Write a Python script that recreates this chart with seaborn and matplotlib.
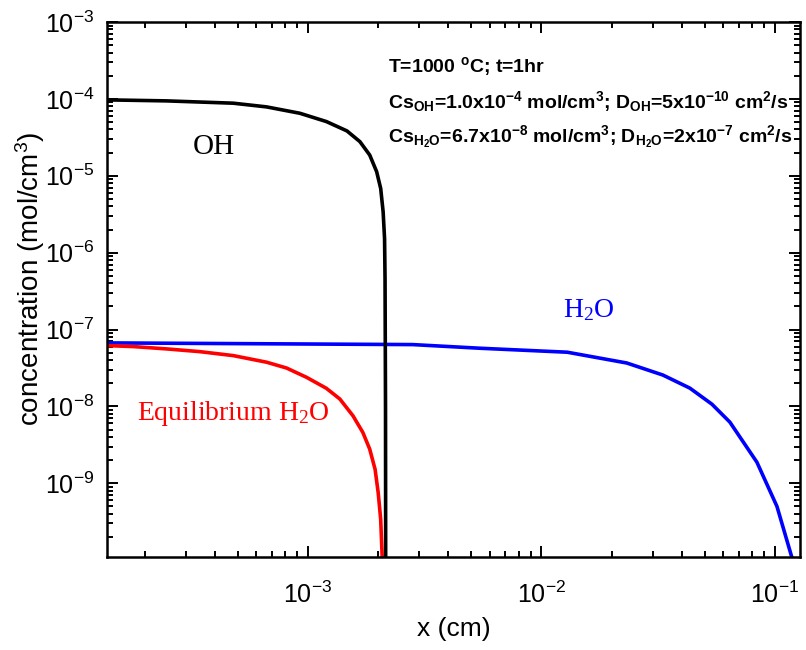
import matplotlib
matplotlib.use("Agg")
import matplotlib.pyplot as plt
from matplotlib import font_manager
import matplotlib.ticker as mticker
import seaborn as sns
import pandas as pd
import numpy as np

# ---- data ----
oh_x = [1.40e-4, 2.48e-4, 4.79e-4, 6.65e-4, 9.24e-4, 1.20e-3, 1.47e-3, 1.67e-3, 1.84e-3,
        1.97e-3, 2.05e-3, 2.10e-3, 2.13e-3, 2.14e-3, 2.15e-3, 2.155e-3]
oh_y = [9.7e-5, 9.42e-5, 8.79e-5, 7.87e-5, 6.50e-5, 5.07e-5, 3.83e-5, 2.78e-5, 1.86e-5,
        1.13e-5, 6.84e-6, 3.40e-6, 1.52e-6, 4.58e-7, 1e-8, 1e-11]

eq_x = [1.38e-4, 1.79e-4, 2.48e-4, 3.44e-4, 4.79e-4, 6.65e-4, 8.10e-4, 9.87e-4, 1.20e-3,
        1.37e-3, 1.56e-3, 1.72e-3, 1.84e-3, 1.94e-3, 2.00e-3, 2.05e-3, 2.08e-3, 2.09e-3]
eq_y = [6.18e-8, 6.0e-8, 5.60e-8, 5.16e-8, 4.58e-8, 3.76e-8, 3.16e-8, 2.39e-8, 1.72e-8,
        1.25e-8, 7.55e-9, 4.58e-9, 2.78e-9, 1.52e-9, 7.57e-10, 3.40e-10, 1.13e-10, 1e-11]

h2o_x = [1.38e-4, 2.81e-3, 5.46e-3, 1.29e-2, 2.32e-2, 3.31e-2, 4.32e-2, 5.37e-2, 6.41e-2,
         8.37e-2, 0.102, 0.118, 0.125]
h2o_y = [6.7e-8, 6.37e-8, 5.71e-8, 5.07e-8, 3.67e-8, 2.56e-8, 1.73e-8, 1.07e-8, 6.25e-9,
         1.88e-9, 5.0e-10, 1.1e-10, 3e-11]

x_limits = (1.38e-4, 0.128)
y_limits = (1.1e-10, 1e-3)
x_major_exponents = [-3, -2, -1]
y_major_exponents = [-9, -8, -7, -6, -5, -4, -3]
x_tick_labels = ["10$^{-3}$", "10$^{-2}$", "10$^{-1}$"]
y_tick_labels = ["10$^{-9}$", "10$^{-8}$", "10$^{-7}$", "10$^{-6}$", "10$^{-5}$", "10$^{-4}$", "10$^{-3}$"]

annotation_lines = [
    "T=1000 $^{o}$C; t=1hr",
    "Cs$_{OH}$=1.0x10$^{-4}$ mol/cm$^{3}$; D$_{OH}$=5x10$^{-10}$ cm$^{2}$/s",
    "Cs$_{H_{2}O}$=6.7x10$^{-8}$ mol/cm$^{3}$; D$_{H_{2}O}$=2x10$^{-7}$ cm$^{2}$/s",
]

# ---- style ----
sns.set_style("ticks", {"axes.edgecolor": "black", "xtick.color": "black",
                        "ytick.color": "black", "text.color": "black",
                        "axes.labelcolor": "black"})
available = {f.name for f in font_manager.fontManager.ttflist}
sans = "Liberation Sans Narrow" if "Liberation Sans Narrow" in available else "Liberation Sans"
plt.rcParams["font.family"] = [sans, "DejaVu Sans"]
plt.rcParams["mathtext.default"] = "regular"

df_oh = pd.DataFrame({"x": oh_x, "y": oh_y})
df_eq = pd.DataFrame({"x": eq_x, "y": eq_y})
df_h2o = pd.DataFrame({"x": h2o_x, "y": h2o_y})

fig = plt.figure(figsize=(8.06, 6.5), dpi=100)
ax = fig.add_axes([107 / 806, 93 / 650, 693 / 806, 535 / 650])

sns.lineplot(data=df_h2o, x="x", y="y", ax=ax, color="#0000FF", lw=2.6, sort=False, estimator=None)
sns.lineplot(data=df_eq, x="x", y="y", ax=ax, color="#FF0000", lw=2.6, sort=False, estimator=None)
sns.lineplot(data=df_oh, x="x", y="y", ax=ax, color="black", lw=2.6, sort=False, estimator=None)

ax.set_xscale("log")
ax.set_yscale("log")
ax.set_xlim(*x_limits)
ax.set_ylim(*y_limits)

ax.set_xticks([10.0 ** e for e in x_major_exponents], x_tick_labels)
ax.set_yticks([10.0 ** e for e in y_major_exponents], y_tick_labels)
ax.xaxis.set_minor_locator(mticker.LogLocator(base=10, subs=np.arange(2, 10), numticks=20))
ax.yaxis.set_minor_locator(mticker.LogLocator(base=10, subs=np.arange(2, 10), numticks=20))
ax.xaxis.set_minor_formatter(mticker.NullFormatter())
ax.yaxis.set_minor_formatter(mticker.NullFormatter())
ax.set_xlim(*x_limits)
ax.set_ylim(*y_limits)

ax.tick_params(which="both", direction="in", top=True, right=True, width=1.4, colors="black")
ax.tick_params(which="major", length=8, labelsize=18)
ax.tick_params(axis="x", which="major", pad=18)
ax.tick_params(axis="y", which="major", pad=9)
ax.tick_params(which="minor", length=4.5)
for s in ax.spines.values():
    s.set_linewidth(1.8)
    s.set_color("black")

ax.set_xlabel("x (cm)", fontsize=19, labelpad=6)
ax.set_ylabel("concentration (mol/cm$^{3}$)", fontsize=20)
ax.yaxis.set_label_coords(-0.086, 0.52)

serif = ["Liberation Serif", "DejaVu Serif"]
ax.text(0.124, 0.766, "OH", transform=ax.transAxes, fontsize=21, family=serif,
        color="black", ha="left", va="center")
ax.text(0.043, 0.256, "Equilibrium H$_{2}$O", transform=ax.transAxes, fontsize=20,
        family=serif, color="#FF0000", ha="left", va="baseline")
ax.text(0.658, 0.449, "H$_{2}$O", transform=ax.transAxes, fontsize=20,
        family=serif, color="#0000FF", ha="left", va="baseline")

for txt, yy in zip(annotation_lines, [0.9065, 0.8393, 0.7757]):
    ax.text(0.4055, yy, txt, transform=ax.transAxes, fontsize=14,
            fontweight="bold", family=["Liberation Sans", "DejaVu Sans"],
            ha="left", va="baseline")

fig.savefig("out.png", dpi=100)
